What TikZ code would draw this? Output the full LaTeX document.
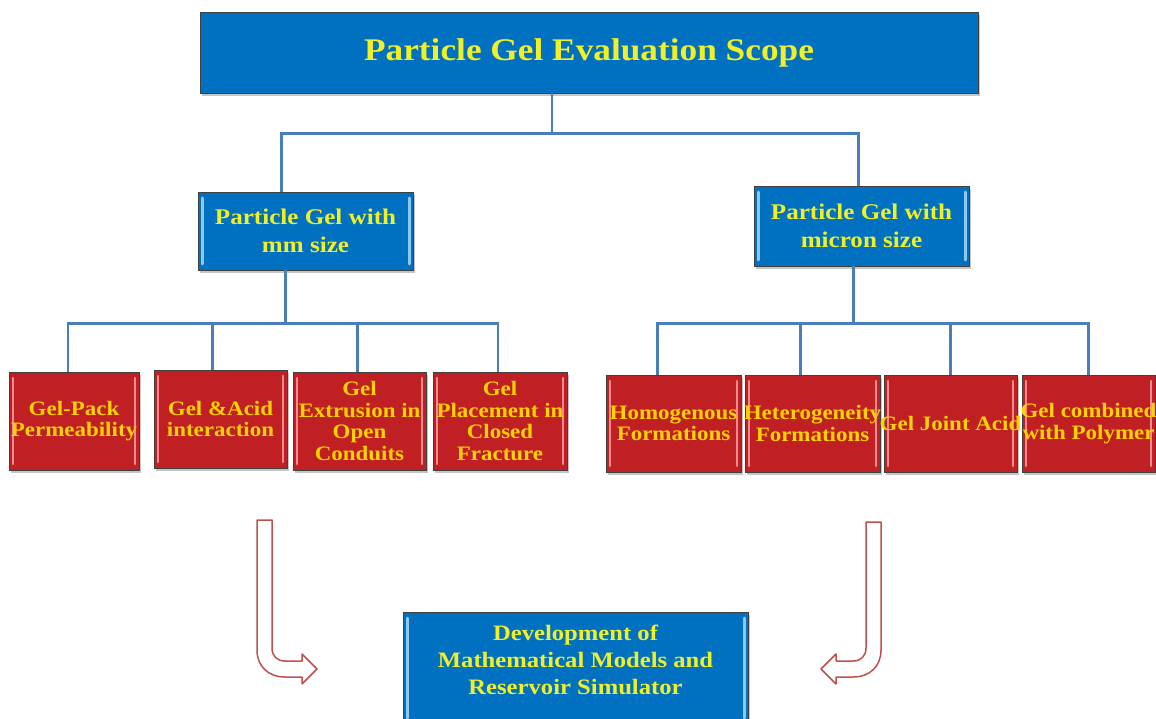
\documentclass[tikz,border=0pt]{standalone}
\usepackage{fontspec}
\setmainfont{Liberation Serif}[FakeStretch=1.12]
\usetikzlibrary{shadows}
\definecolor{boxblue}{RGB}{0,112,192}
\definecolor{boxred}{RGB}{192,32,36}
\definecolor{bevelblue}{RGB}{140,200,240}
\definecolor{bevelred}{RGB}{240,140,140}
\definecolor{txtyellow}{RGB}{240,240,40}
\definecolor{txtgold}{RGB}{255,210,0}
\definecolor{connblue}{RGB}{74,126,187}
\definecolor{arrowred}{RGB}{192,80,77}
\tikzset{
  basebox/.style={draw=black!75, line width=0.8pt, inner sep=2pt, align=center,
    drop shadow={shadow xshift=2pt, shadow yshift=-3pt, opacity=0.45}},
  topbox/.style={basebox, fill=boxblue, text=txtyellow, font=\bfseries\fontsize{31.5}{36}\selectfont},
  bluebox/.style={basebox, fill=boxblue, text=txtyellow, font=\bfseries\fontsize{22.4}{28}\selectfont,
    path picture={
      \draw[bevelblue, line width=3pt, line cap=round]
        ([xshift=4pt,yshift=-6pt]path picture bounding box.north west) -- ([xshift=4pt,yshift=6pt]path picture bounding box.south west)
        ([xshift=-4pt,yshift=-6pt]path picture bounding box.north east) -- ([xshift=-4pt,yshift=6pt]path picture bounding box.south east);}},
  redbox/.style={basebox, fill=boxred, minimum height=98pt,
    path picture={
      \draw[bevelred, line width=2.5pt, line cap=round]
        ([xshift=4pt,yshift=-6pt]path picture bounding box.north west) -- ([xshift=4pt,yshift=6pt]path picture bounding box.south west)
        ([xshift=-4pt,yshift=-6pt]path picture bounding box.north east) -- ([xshift=-4pt,yshift=6pt]path picture bounding box.south east);}},
  redtext/.style={text=txtgold, align=center, inner sep=0pt, font=\bfseries\fontsize{20.5}{21.5}\selectfont},
  devtext/.style={text=txtyellow, align=center, font=\bfseries\fontsize{22}{27}\selectfont},
  conn/.style={draw=connblue, line width=2.4pt},
  bigarrow/.style={draw=arrowred, line width=1.5pt, fill=white, line join=round}
}
\begin{document}
\begin{tikzpicture}[x=1pt, y=-1pt]
\useasboundingbox[fill=white] (0,0) rectangle (1156,719);

% top
\node[topbox, minimum width=778pt, minimum height=81pt] (top) at (589,52.5) {Particle Gel Evaluation Scope};

% second level
\node[bluebox, minimum width=215pt, minimum height=78pt] (mm) at (305.5,231) {Particle Gel with\\mm size};
\node[bluebox, minimum width=215pt, minimum height=80pt] (mic) at (861.5,226) {Particle Gel with\\micron size};

% red boxes left
\node[redbox, minimum width=130pt] (b1) at (74,421) {};
\node[redbox, minimum width=133pt] (b2) at (220.5,419) {};
\node[redbox, minimum width=133pt] (b3) at (359.5,421) {};
\node[redbox, minimum width=134pt] (b4) at (500,421) {};
\node[redtext] (t1) at (b1) {Gel-Pack\\Permeability};
\node[redtext] (t2) at (b2) {Gel \&Acid\\interaction};
\node[redtext] (t3) at (b3) {Gel\\Extrusion in\\Open\\Conduits};
\node[redtext] (t4) at (b4) {Gel\\Placement in\\Closed\\Fracture};

% red boxes right
\node[redbox, minimum width=135pt, minimum height=97pt] (b5) at (673.5,423.5) {};
\node[redbox, minimum width=135pt, minimum height=97pt] (b6) at (812.5,423.5) {};
\node[redbox, minimum width=133pt, minimum height=97pt] (b7) at (950.5,423.5) {};
\node[redbox, minimum width=133pt, minimum height=97pt] (b8) at (1088.5,423.5) {};
\node[redtext] (t5) at (b5) {Homogenous\\Formations};
\node[redtext] (t6) at (b6) {Heterogeneity\\Formations};
\node[redtext] (t7) at (b7) {Gel Joint Acid};
\node[redtext] (t8) at (b8) {Gel combined\\with Polymer};

% bottom box
\node[bluebox, minimum width=345pt, minimum height=112pt] (dev) at (575.5,668) {};
\node[devtext] (devt) at (575.5,660) {Development of\\Mathematical Models and\\Reservoir Simulator};

% connectors
\draw[conn] ([xshift=-37pt]top.south) -- ++(0,40) coordinate (h1);
\draw[conn] ([xshift=-24pt]mm.north) |- (h1) -| ([xshift=-3pt]mic.north);

\draw[conn] ([xshift=-20pt]mm.south) -- ++(0,53) coordinate (h2);
\draw[conn] ([xshift=-6pt]b1.north) |- (h2) -| ([xshift=-2pt]b4.north);
\draw[conn] ([xshift=-8pt]b2.north) |- (h2);
\draw[conn] ([xshift=-2pt]b3.north) |- (h2);

\draw[conn] ([xshift=-8pt]mic.south) -- ++(0,57) coordinate (h3);
\draw[conn] ([xshift=-16pt]b5.north) |- (h3) -| (b8.north);
\draw[conn] ([xshift=-12pt]b6.north) |- (h3);
\draw[conn] (b7.north) |- (h3);

% big arrows
\draw[bigarrow] (257,520) -- (272,520) -- (272,648) .. controls (272,656) and (277,661) .. (285,661)
  -- (302,661) -- (302,654) -- (317,669) -- (302,684) -- (302,677) -- (285,677)
  .. controls (268,677) and (257,666) .. (257,650) -- cycle;
\draw[bigarrow] (881,522) -- (866,522) -- (866,648) .. controls (866,656) and (861,661) .. (853,661)
  -- (836,661) -- (836,654) -- (821,669) -- (836,684) -- (836,677) -- (853,677)
  .. controls (870,677) and (881,666) .. (881,650) -- cycle;
\end{tikzpicture}
\end{document}
